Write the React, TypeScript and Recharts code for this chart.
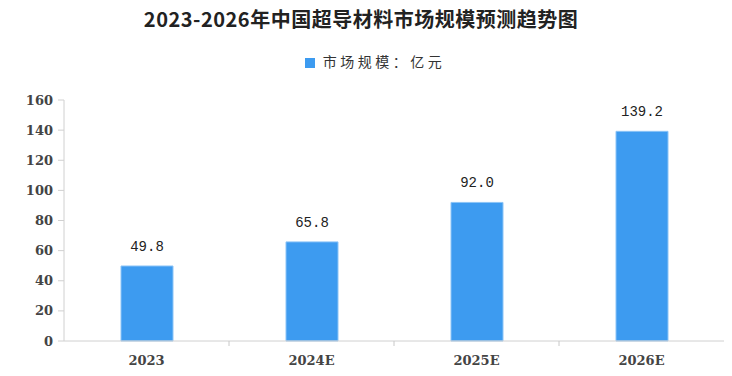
import { BarChart, Bar, XAxis, YAxis, Legend, LabelList } from "recharts";

const years = ["2023", "2024E", "2025E", "2026E"];
const marketSize = [49.8, 65.8, 92.0, 139.2];
const yTicks = [0, 20, 40, 60, 80, 100, 120, 140, 160];

const data = years.map((year, i) => ({ year, value: marketSize[i] }));

const W = 732;
const H = 376;
const AXIS_LEFT = 64;
const RIGHT = 8;
const BAND = (W - AXIS_LEFT - RIGHT) / years.length;

const serif = "'DejaVu Serif', 'Liberation Serif', serif";

function XTick(props: any) {
  const { x, y, payload, index } = props;
  return (
    <g>
      {index > 0 && (
        <line x1={x - BAND / 2} x2={x - BAND / 2} y1={y - 8} y2={y - 3} stroke="#c8c8c8" />
      )}
      <text x={x} y={y + 16} textAnchor="middle" fontFamily={serif} fontSize={13} fontWeight={600} fill="#444">
        {payload.value}
      </text>
    </g>
  );
}

export default function App() {
  return (
    <div style={{ position: "absolute", left: 0, top: 0, width: W, height: H, background: "#fff" }}>
      <div
        style={{
          position: "absolute",
          top: 4,
          left: 0,
          width: 722,
          textAlign: "center",
          fontFamily: "'Noto Sans CJK SC', sans-serif",
          fontWeight: 700,
          fontSize: 20,
          color: "#222",
          letterSpacing: 0.5,
          zIndex: 2,
        }}
      >
        2023-2026年中国超导材料市场规模预测趋势图
      </div>
      <BarChart
        width={W}
        height={H}
        data={data}
        margin={{ top: 76, right: RIGHT, bottom: 5, left: 0 }}
        barSize={52}
      >
        <Legend
          verticalAlign="top"
          align="center"
          iconType="square"
          iconSize={10}
          wrapperStyle={{ top: 48, left: 14, width: W, fontFamily: "'Noto Sans CJK SC', sans-serif" }}
          formatter={(v: string) => (
            <span style={{ color: "#333", fontSize: 14, letterSpacing: 3.5, marginLeft: 4 }}>{v}</span>
          )}
        />
        <XAxis
          dataKey="year"
          stroke="#d0d0d0"
          tickLine={false}
          tick={<XTick />}
          height={30}
          interval={0}
        />
        <YAxis
          width={AXIS_LEFT}
          domain={[0, 160]}
          ticks={yTicks}
          stroke="#d0d0d0"
          tickSize={6}
          tickMargin={5}
          tick={{ fontFamily: serif, fontSize: 13, fontWeight: 600, fill: "#444" }}
          interval={0}
        />
        <Bar
          dataKey="value"
          name="市场规模：亿元"
          fill="#3D9BF0"
          stroke="#8cc4f7"
          strokeWidth={1}
          isAnimationActive={false}
        >
          <LabelList
            dataKey="value"
            position="top"
            offset={15}
            formatter={(v: any) => Number(v).toFixed(1)}
            style={{ fontFamily: "'Liberation Mono', monospace", fontSize: 14, fill: "#222" }}
          />
        </Bar>
      </BarChart>
    </div>
  );
}
